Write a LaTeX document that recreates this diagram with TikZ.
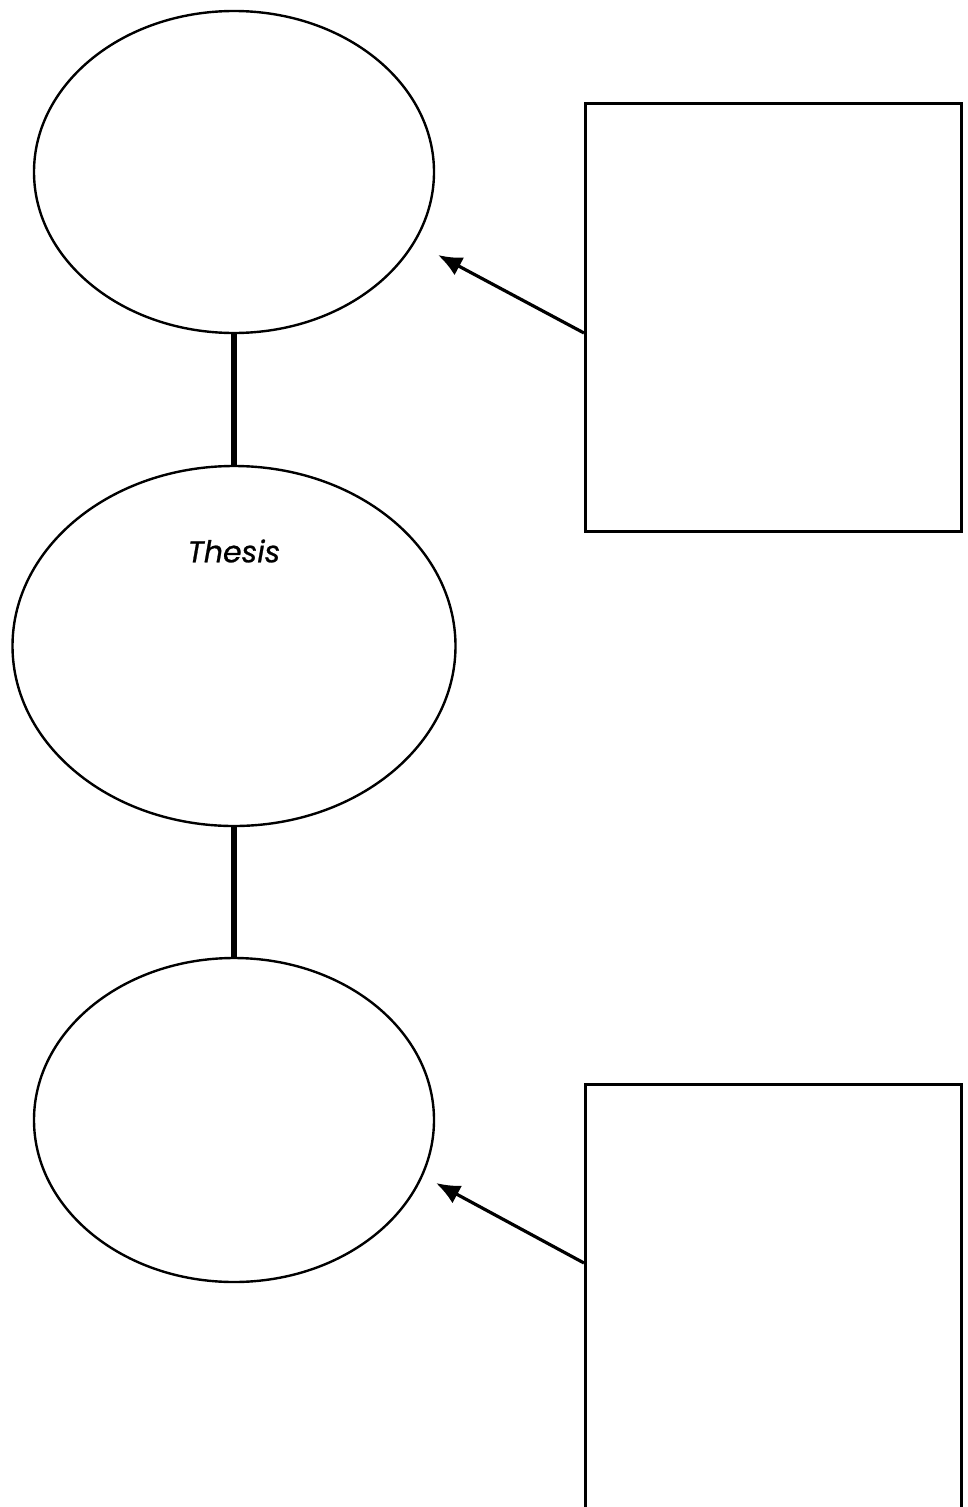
\documentclass[tikz,border=0pt]{standalone}
\usepackage{fontspec}
\setmainfont{Poppins}
\newfontfamily\thesisfont[FakeBold=0.8]{Poppins}
\usetikzlibrary{shapes.geometric,arrows.meta}
\tikzset{
	oval/.style={draw, ellipse, line width=2.4pt, inner sep=0pt},
	box/.style={draw, rectangle, line width=3.2pt, inner sep=0pt, anchor=north west,
		minimum width=376pt, minimum height=428pt},
	link/.style={line width=6pt},
	pointer/.style={line width=3.2pt, -{Latex[length=24pt,width=20pt]}}
}
\begin{document}
\begin{tikzpicture}[x=1pt,y=-1pt]
\useasboundingbox (0,0) rectangle (968,1507);
\clip (0,0) rectangle (968,1507);
\node[oval, minimum width=400pt, minimum height=322pt] (E1) at (234,172) {};
\node[oval, minimum width=443pt, minimum height=360pt] (E2) at (234,646) {};
\node[oval, minimum width=400pt, minimum height=324pt] (E3) at (234,1120) {};
\node[font=\thesisfont\fontsize{30}{36}\selectfont\itshape] (Thesis) at (234,551) {Thesis};
\node[box] (B1) at (584,102) {};
\node[box] (B2) at (584,1083) {};
\coordinate (B1_tip) at (438,255);
\coordinate (B2_tip) at (436,1183);

\draw[link] \foreach \a/\b in {E1/E2, E2/E3}
{
	(\a) -- (\b)
};

\draw[pointer] ([yshift=-231pt]B1.north west) -- (B1_tip);
\draw[pointer] ([yshift=-180pt]B2.north west) -- (B2_tip);

\end{tikzpicture}
\end{document}
